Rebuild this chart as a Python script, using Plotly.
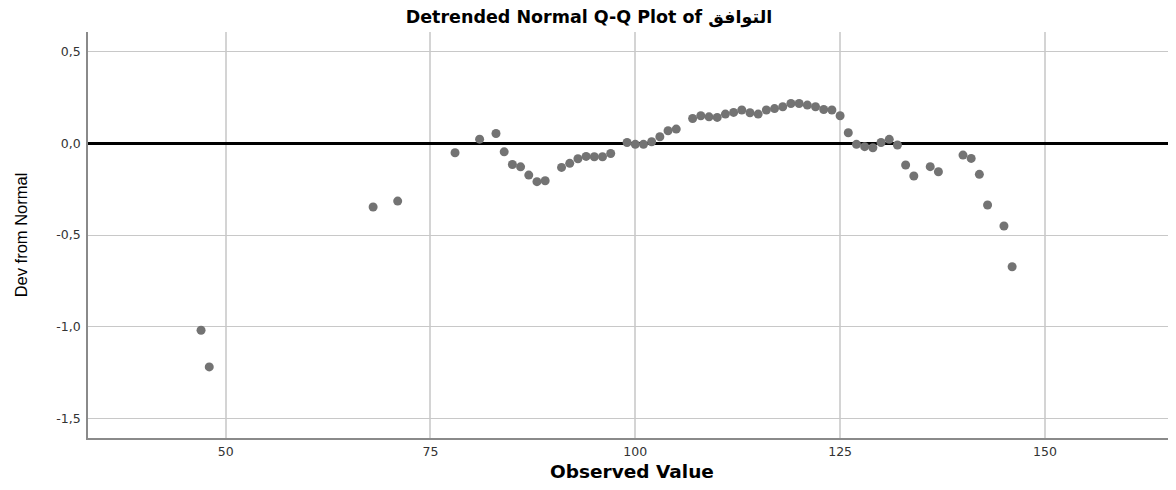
import plotly.graph_objects as go

observed = [47, 48, 68, 71, 78, 81, 83, 84, 85, 86, 87, 88, 89, 91, 92, 93, 94, 95, 96, 97,
            99, 100, 101, 102, 103, 104, 105, 107, 108, 109, 110, 111, 112, 113, 114, 115,
            116, 117, 118, 119, 120, 121, 122, 123, 124, 125, 126, 127, 128, 129, 130, 131,
            132, 133, 134, 136, 137, 140, 141, 142, 143, 145, 146]
dev_from_normal = [-1.02, -1.22, -0.347, -0.315, -0.051, 0.023, 0.054, -0.046, -0.115, -0.128,
                   -0.173, -0.209, -0.204, -0.131, -0.109, -0.084, -0.071, -0.073, -0.073, -0.055,
                   0.005, -0.005, -0.005, 0.009, 0.036, 0.069, 0.078, 0.136, 0.151, 0.145,
                   0.142, 0.160, 0.169, 0.182, 0.167, 0.160, 0.182, 0.190, 0.200, 0.218,
                   0.218, 0.209, 0.200, 0.185, 0.182, 0.151, 0.058, -0.005, -0.018, -0.024,
                   0.005, 0.022, -0.009, -0.118, -0.178, -0.127, -0.155, -0.064, -0.082, -0.169,
                   -0.336, -0.451, -0.673]

x_tick_vals = [50, 75, 100, 125, 150]
x_tick_text = ["50", "75", "100", "125", "150"]
y_tick_vals = [-1.5, -1.0, -0.5, 0.0, 0.5]
y_tick_text = ["-1,5", "-1,0", "-0,5", "0,0", "0,5"]

title_text = "Detrended Normal Q-Q Plot of التوافق"
x_title = "Observed Value"
y_title = "Dev from Normal"

H = 474

fig = go.Figure()
fig.add_trace(go.Scatter(
    x=observed, y=dev_from_normal, mode="markers",
    marker=dict(size=9, color="rgb(115,115,115)", line=dict(width=0)),
    showlegend=False, hoverinfo="x+y",
))

fig.update_layout(
    width=1168, height=H,
    margin=dict(l=80, r=0, t=24, b=44),
    paper_bgcolor="white", plot_bgcolor="white",
    separators=", ",
    title=dict(text="<b>" + title_text + "</b>", x=0.4974, xanchor="center", xref="container",
               y=1 - 9 / H, yanchor="middle", yref="container",
               font=dict(family="DejaVu Sans", size=17.5, color="black")),
    font=dict(family="DejaVu Sans", color="#333"),
    xaxis=dict(
        range=[33.2, 166], tickvals=x_tick_vals, ticktext=x_tick_text,
        showgrid=True, gridcolor="#d4d4d4", gridwidth=2,
        showline=True, linecolor="#8a8a8a", linewidth=1.5,
        zeroline=False, ticks="", ticklabelstandoff=1,
        tickfont=dict(family="DejaVu Sans", size=12.5, color="#333"),
        title=dict(text="<b>" + x_title + "</b>", standoff=8,
                   font=dict(family="DejaVu Sans", size=18.5, color="black")),
    ),
    yaxis=dict(
        range=[-1.608, 0.608], tickvals=y_tick_vals, ticktext=y_tick_text,
        showgrid=True, gridcolor="#c8c8c8", gridwidth=1,
        showline=True, linecolor="#8a8a8a", linewidth=1.5,
        zeroline=True, zerolinecolor="black", zerolinewidth=3,
        ticks="", ticklabelstandoff=3,
        tickfont=dict(family="DejaVu Sans", size=12.5, color="#333"),
        title=dict(text=y_title, standoff=25,
                   font=dict(family="Liberation Sans", size=16.5, color="black")),
    ),
)

fig.write_html("out.html")
